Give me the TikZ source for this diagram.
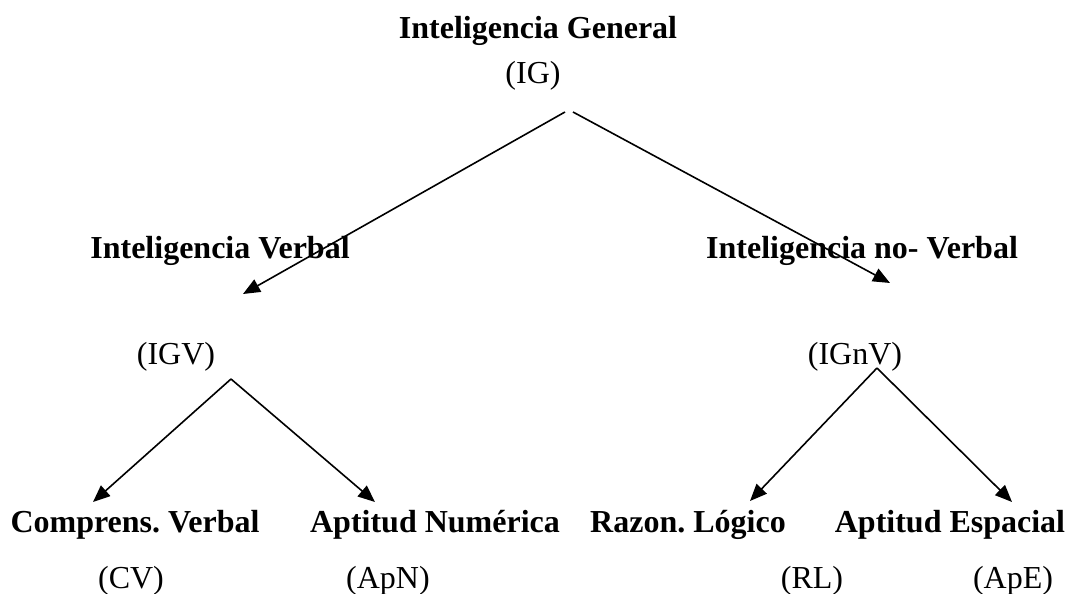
\documentclass[tikz,border=0pt]{standalone}
\usepackage{fontspec}
\setmainfont{Liberation Serif}
\usetikzlibrary{arrows.meta}
\frenchspacing
\tikzset{
  lbl/.style={anchor=base, inner sep=0pt, font=\fontsize{32}{38}\selectfont},
  title/.style={lbl, font=\fontsize{32}{38}\selectfont\bfseries},
  link/.style={line width=1.6pt, -{Triangle[length=17pt,width=14pt]}}
}
\begin{document}
\begin{tikzpicture}[x=1pt, y=-1pt]
\useasboundingbox (0,0) rectangle (1074,594);
% level 0
\node[title] (ig)  at (538,39) {Inteligencia General};
\node[lbl]   (igA) at (533,84) {(IG)};
% level 1
\node[title] (iv)  at (220,258) {Inteligencia Verbal};
\node[lbl]   (ivA) at (176,364) {(IGV)};
\node[title] (inv) at (862,258) {Inteligencia no- Verbal};
\node[lbl]   (invA) at (855,364) {(IGnV)};
% level 2
\node[title] (cv)  at (135,532) {Comprens. Verbal};
\node[lbl]   (cvA) at (131,588) {(CV)};
\node[title] (apn) at (435,532) {Aptitud Numérica};
\node[lbl]   (apnA) at (388,588) {(ApN)};
\node[title] (rl)  at (688,532) {Razon. Lógico};
\node[lbl]   (rlA) at (812,588) {(RL)};
\node[title] (ape) at (950,532) {Aptitud Espacial};
\node[lbl]   (apeA) at (1013,588) {(ApE)};
% connector end points
\coordinate (igL) at (565,112);
\coordinate (igR) at (573,112);
\coordinate (ivIn) at (243,294);
\coordinate (invIn) at (890,283);
\coordinate (ivOut) at (231,379);
\coordinate (invOut) at (877,368);
\coordinate (cvIn) at (93,502);
\coordinate (apnIn) at (375,502);
\coordinate (rlIn) at (750,501);
\coordinate (apeIn) at (1012,502);
% connectors
\draw[link] (igL) -- (ivIn);
\draw[link] (igR) -- (invIn);
\draw[link] (ivOut) -- (cvIn);
\draw[link] (ivOut) -- (apnIn);
\draw[link] (invOut) -- (rlIn);
\draw[link] (invOut) -- (apeIn);
\end{tikzpicture}
\end{document}
